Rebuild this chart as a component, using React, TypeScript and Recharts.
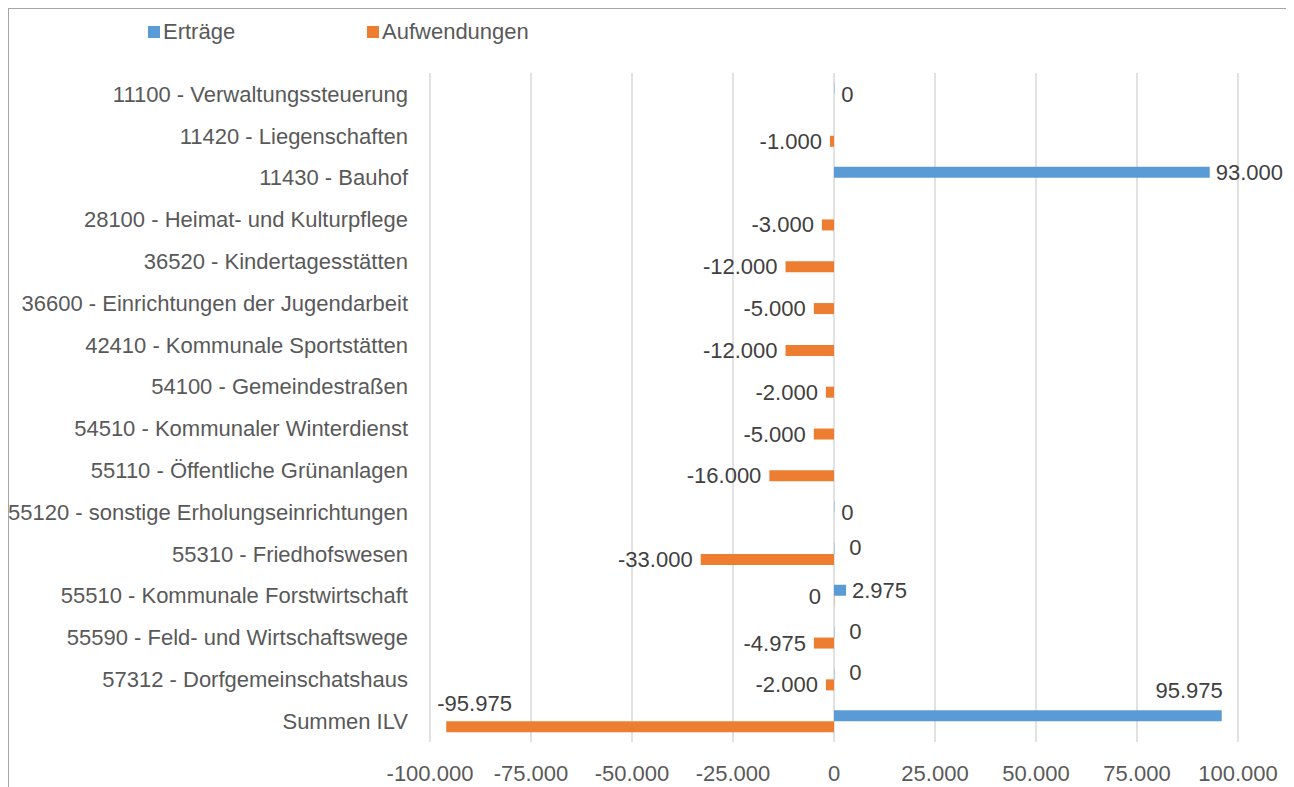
import React from 'react'
import { BarChart, Bar, XAxis, YAxis, CartesianGrid, Legend } from 'recharts'

const categories = [
  '11100 - Verwaltungssteuerung',
  '11420 - Liegenschaften',
  '11430 - Bauhof',
  '28100 - Heimat- und Kulturpflege',
  '36520 - Kindertagesstätten',
  '36600 - Einrichtungen der Jugendarbeit',
  '42410 - Kommunale Sportstätten',
  '54100 - Gemeindestraßen',
  '54510 - Kommunaler Winterdienst',
  '55110 - Öffentliche Grünanlagen',
  '55120 - sonstige Erholungseinrichtungen',
  '55310 - Friedhofswesen',
  '55510 - Kommunale Forstwirtschaft',
  '55590 - Feld- und Wirtschaftswege',
  '57312 - Dorfgemeinschatshaus',
  'Summen ILV',
]

const ertraege: (number | null)[] = [0, null, 93000, null, null, null, null, null, null, null, 0, 0, 2975, 0, 0, 95975]
const aufwendungen: (number | null)[] = [null, -1000, null, -3000, -12000, -5000, -12000, -2000, -5000, -16000, null, -33000, 0, -4975, -2000, -95975]

const xTicks = [-100000, -75000, -50000, -25000, 0, 25000, 50000, 75000, 100000]

const BLUE = '#5B9BD5'
const ORANGE = '#ED7D31'
const FONT = '"Liberation Sans", Arial, sans-serif'

const chartData = categories.map((name, i) => ({
  name,
  ertraege: ertraege[i],
  aufwendungen: aufwendungen[i],
}))

// German thousands separator
const fmt = (v: number) => {
  const s = Math.abs(v).toString().replace(/\B(?=(\d{3})+(?!\d))/g, '.')
  return (v < 0 ? '-' : '') + s
}

const labelStyle = { fontFamily: FONT, fontSize: 22, fill: '#404040' }

// zero values get a hairline so recharts still hands us a label position
const zeroMin = (value: any) => (value === 0 ? 0.3 : 0)

const ertraegeLabel = (props: any) => {
  const { x, y, width, height, value, index } = props
  if (value === null || value === undefined) return null
  const right = Math.max(x, x + width)
  if (Math.abs(value) > 95000) {
    return (
      <text x={right + 1} y={y - 20} textAnchor="end" dominantBaseline="central" {...labelStyle}>
        {fmt(value)}
      </text>
    )
  }
  if (value === 0) {
    const single = aufwendungen[index] === null
    return (
      <text
        x={right + (single ? 7 : 15)}
        y={single ? y + height : y + height / 2 - 1}
        textAnchor="start"
        dominantBaseline="central"
        {...labelStyle}
      >
        0
      </text>
    )
  }
  return (
    <text x={right + 6} y={y + height / 2} textAnchor="start" dominantBaseline="central" {...labelStyle}>
      {fmt(value)}
    </text>
  )
}

const aufwendungenLabel = (props: any) => {
  const { x, y, width, height, value } = props
  if (value === null || value === undefined) return null
  const left = Math.min(x, x + width)
  if (Math.abs(value) > 95000) {
    return (
      <text x={left - 9} y={y - 18} textAnchor="start" dominantBaseline="central" {...labelStyle}>
        {fmt(value)}
      </text>
    )
  }
  if (value === 0) {
    return (
      <text x={left - 13} y={y + height / 2 - 5} textAnchor="end" dominantBaseline="central" {...labelStyle}>
        0
      </text>
    )
  }
  return (
    <text x={left - 8} y={y + height / 2} textAnchor="end" dominantBaseline="central" {...labelStyle}>
      {fmt(value)}
    </text>
  )
}

const renderLegend = () => (
  <div style={{ display: 'flex', alignItems: 'center', fontFamily: FONT, fontSize: 22, color: '#595959' }}>
    <span style={{ display: 'inline-block', width: 12, height: 12, background: BLUE, marginRight: 3 }} />
    <span style={{ width: 204 }}>Erträge</span>
    <span style={{ display: 'inline-block', width: 12, height: 12, background: ORANGE, marginRight: 3 }} />
    <span>Aufwendungen</span>
  </div>
)

export default function App() {
  return (
    <div
      style={{
        width: 1280,
        height: 779,
        border: '1px solid #a6a6a6',
        borderBottom: 'none',
        boxSizing: 'border-box',
        position: 'relative',
        background: '#fff',
      }}
    >
      <style>{'html, body { overflow: hidden; }'}</style>
      <BarChart
        width={1278}
        height={778}
        data={chartData}
        layout="vertical"
        margin={{ top: 64, right: 49, bottom: 0, left: 0 }}
        barSize={11}
        barGap={0}
      >
        <CartesianGrid horizontal={false} stroke="#d9d9d9" strokeWidth={1.5} />
        <XAxis
          type="number"
          domain={[-100000, 100000]}
          ticks={xTicks}
          tickFormatter={fmt}
          axisLine={false}
          tickLine={false}
          tickMargin={17}
          height={45}
          interval={0}
          tick={{ fontFamily: FONT, fontSize: 22, fill: '#595959' }}
        />
        <YAxis
          type="category"
          dataKey="name"
          width={421}
          axisLine={false}
          tickLine={false}
          tickMargin={16}
          interval={0}
          tick={{ fontFamily: FONT, fontSize: 22, fill: '#595959' }}
        />
        <Legend
          verticalAlign="middle"
          align="center"
          layout="horizontal"
          content={renderLegend}
          wrapperStyle={{ top: 10, left: 139, width: 'auto', height: 'auto' }}
        />
        <Bar
          dataKey="ertraege"
          name="Erträge"
          fill={BLUE}
          minPointSize={zeroMin}
          isAnimationActive={false}
          label={ertraegeLabel}
        />
        <Bar
          dataKey="aufwendungen"
          name="Aufwendungen"
          fill={ORANGE}
          minPointSize={zeroMin}
          isAnimationActive={false}
          label={aufwendungenLabel}
        />
      </BarChart>
    </div>
  )
}
